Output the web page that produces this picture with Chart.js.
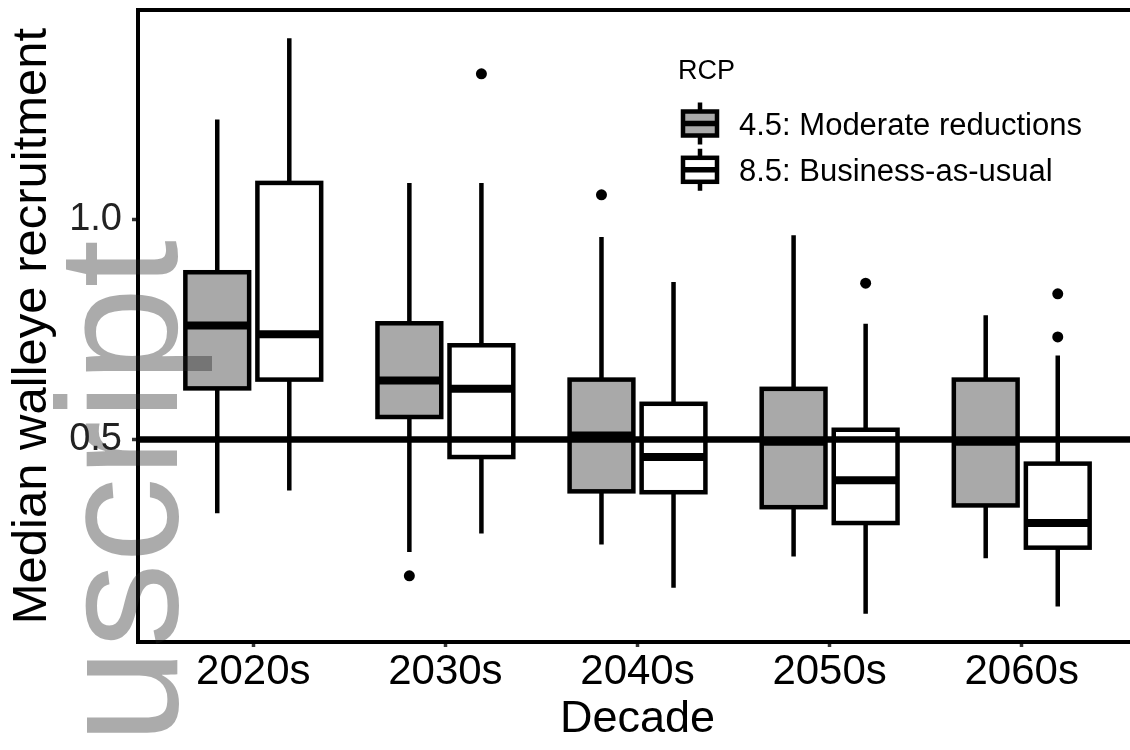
<!DOCTYPE html>
<html>
<head>
<meta charset="utf-8">
<script src="https://cdn.jsdelivr.net/npm/chart.js@4.4.1/dist/chart.umd.min.js"></script>
<style>
  html, body { margin: 0; padding: 0; background: #fff; overflow: hidden; }
  #wrap { width: 1130px; height: 750px; overflow: hidden; }
  #chart { display: block; }
</style>
</head>
<body>
<div id="wrap"><canvas id="chart" width="1140" height="750"></canvas></div>
<script>
// decades on the x axis
const decades = ['2020s', '2030s', '2040s', '2050s', '2060s'];
const legendTitle = 'RCP';
const seriesNames = ['4.5: Moderate reductions', '8.5: Business-as-usual'];

// RCP 4.5 box stats (whisker low, Q1, median, Q3, whisker high)
const rcp45Low  = [0.332, 0.244, 0.261, 0.234, 0.230];
const rcp45Q1   = [0.616, 0.551, 0.382, 0.346, 0.350];
const rcp45Med  = [0.759, 0.634, 0.509, 0.495, 0.495];
const rcp45Q3   = [0.880, 0.764, 0.636, 0.615, 0.636];
const rcp45High = [1.227, 1.083, 0.960, 0.964, 0.782];
const rcp45Outliers = [[], [0.190], [1.056], [], []];

// RCP 8.5 box stats
const rcp85Low  = [0.384, 0.286, 0.163, 0.104, 0.120];
const rcp85Q1   = [0.636, 0.460, 0.380, 0.310, 0.254];
const rcp85Med  = [0.739, 0.615, 0.460, 0.407, 0.310];
const rcp85Q3   = [1.083, 0.714, 0.581, 0.522, 0.445];
const rcp85High = [1.412, 1.083, 0.858, 0.763, 0.691];
const rcp85Outliers = [[], [1.331], [], [0.855], [0.831, 0.733]];

const yTicks = [0.5, 1.0];
const refLine = 0.5;

const FONT = '"Liberation Sans", Arial, sans-serif';
Chart.defaults.font.family = FONT;

// dodge offset / half box width in x-axis units
const DODGE = 0.1875;
const HALF = 0.166;
const X_MIN = 0.4;
const X_MAX = 5.6;

const groups = [
  { low: rcp45Low, q1: rcp45Q1, med: rcp45Med, q3: rcp45Q3, high: rcp45High, out: rcp45Outliers, fill: '#a9a9a9', shift: -DODGE },
  { low: rcp85Low, q1: rcp85Q1, med: rcp85Med, q3: rcp85Q3, high: rcp85High, out: rcp85Outliers, fill: '#ffffff', shift: DODGE }
];

function outlierPoints(g) {
  const pts = [];
  g.out.forEach((vals, i) => vals.forEach(v => pts.push({ x: i + 1 + g.shift, y: v })));
  return pts;
}

function noPad(s) {
  s.paddingTop = 0; s.paddingBottom = 0;
  s.paddingLeft = 0; s.paddingRight = 0;
}

const boxPlugin = {
  id: 'boxes',
  beforeDatasetsDraw(chart) {
    const { ctx, scales: { x, y } } = chart;
    ctx.save();
    ctx.strokeStyle = '#000';
    ctx.lineJoin = 'miter';
    ctx.lineCap = 'butt';
    groups.forEach(g => {
      for (let i = 0; i < decades.length; i++) {
        const pos = i + 1 + g.shift;
        const cx = x.getPixelForValue(pos);
        const l = x.getPixelForValue(pos - HALF);
        const r = x.getPixelForValue(pos + HALF);
        const yLow = y.getPixelForValue(g.low[i]);
        const yQ1 = y.getPixelForValue(g.q1[i]);
        const yMed = y.getPixelForValue(g.med[i]);
        const yQ3 = y.getPixelForValue(g.q3[i]);
        const yHigh = y.getPixelForValue(g.high[i]);
        // whiskers
        ctx.lineWidth = 4.5;
        ctx.beginPath();
        ctx.moveTo(cx, yLow); ctx.lineTo(cx, yQ1);
        ctx.moveTo(cx, yQ3); ctx.lineTo(cx, yHigh);
        ctx.stroke();
        // box
        ctx.fillStyle = g.fill;
        ctx.fillRect(l, yQ3, r - l, yQ1 - yQ3);
        ctx.strokeRect(l, yQ3, r - l, yQ1 - yQ3);
        // median
        ctx.lineWidth = 8;
        ctx.beginPath();
        ctx.moveTo(l, yMed); ctx.lineTo(r, yMed);
        ctx.stroke();
      }
    });
    ctx.restore();
  },
  afterDatasetsDraw(chart) {
    const { ctx, chartArea: a } = chart;
    ctx.save();
    // panel border (its right side sits past the visible 1130px)
    ctx.strokeStyle = '#000';
    ctx.lineWidth = 4;
    ctx.lineJoin = 'miter';
    ctx.strokeRect(a.left, a.top, a.right - a.left, a.bottom - a.top);

    // legend
    ctx.fillStyle = '#000';
    ctx.textAlign = 'left';
    ctx.textBaseline = 'alphabetic';
    ctx.font = '27px ' + FONT;
    ctx.fillText(legendTitle, 678, 79);
    ctx.font = '31px ' + FONT;
    groups.forEach((g, k) => {
      const cy = 123.5 + k * 46.3;
      const kx = 700;
      ctx.lineWidth = 4.5;
      ctx.beginPath();
      ctx.moveTo(kx, cy - 21); ctx.lineTo(kx, cy - 12);
      ctx.moveTo(kx, cy + 12); ctx.lineTo(kx, cy + 21);
      ctx.stroke();
      ctx.fillStyle = g.fill;
      ctx.fillRect(kx - 17, cy - 12, 34, 24);
      ctx.strokeRect(kx - 17, cy - 12, 34, 24);
      ctx.lineWidth = 5.5;
      ctx.beginPath();
      ctx.moveTo(kx - 17, cy); ctx.lineTo(kx + 17, cy);
      ctx.stroke();
      ctx.fillStyle = '#000';
      ctx.fillText(seriesNames[k], 739, cy + 11.5);
    });
    ctx.restore();
  },
  afterDraw(chart) {
    // faint "Manuscript" stamp over the left edge
    const { ctx } = chart;
    ctx.save();
    ctx.translate(177, 240);
    ctx.rotate(-Math.PI / 2);
    ctx.font = '171px ' + FONT;
    ctx.fillStyle = 'rgba(34,34,34,0.38)';
    ctx.textAlign = 'right';
    ctx.textBaseline = 'alphabetic';
    ctx.fillText('Manuscript', 0, 0);
    ctx.restore();
  }
};

const chart = new Chart(document.getElementById('chart'), {
  type: 'scatter',
  data: {
    datasets: [
      {
        label: seriesNames[0] + ' outliers',
        data: outlierPoints(groups[0]),
        pointRadius: 5.5,
        pointBackgroundColor: '#000',
        pointBorderWidth: 0,
        order: 2
      },
      {
        label: seriesNames[1] + ' outliers',
        data: outlierPoints(groups[1]),
        pointRadius: 5.5,
        pointBackgroundColor: '#000',
        pointBorderWidth: 0,
        order: 2
      },
      {
        type: 'line',
        label: 'reference',
        data: [{ x: X_MIN, y: refLine }, { x: X_MAX, y: refLine }],
        borderColor: '#000',
        borderWidth: 6.5,
        pointRadius: 0,
        order: 1
      }
    ]
  },
  options: {
    responsive: false,
    animation: false,
    layout: { autoPadding: false, padding: { top: 10, left: 0, right: 3, bottom: 0 } },
    plugins: {
      legend: { display: false },
      tooltip: { enabled: false }
    },
    scales: {
      x: {
        type: 'linear',
        min: X_MIN,
        max: X_MAX,
        afterBuildTicks: s => { s.ticks = decades.map((d, i) => ({ value: i + 1 })); },
        afterFit: s => { s.height = 108; noPad(s); },
        ticks: {
          callback: v => decades[Math.round(v) - 1],
          font: { size: 42 },
          color: '#000',
          padding: 0,
          maxRotation: 0,
          autoSkip: false
        },
        grid: { drawOnChartArea: false, tickLength: 5, tickWidth: 3.5, tickColor: '#333' },
        border: { display: false },
        title: { display: true, text: 'Decade', font: { size: 45 }, color: '#000', padding: { top: 0, bottom: 3 } }
      },
      y: {
        type: 'linear',
        min: 0.0396,
        max: 1.476,
        afterBuildTicks: s => { s.ticks = yTicks.map(v => ({ value: v })); },
        afterFit: s => { s.width = 138; noPad(s); },
        ticks: {
          callback: v => v.toFixed(1),
          font: { size: 38 },
          color: '#222',
          padding: 10
        },
        grid: { drawOnChartArea: false, tickLength: 6, tickWidth: 3.5, tickColor: '#333' },
        border: { display: false },
        title: { display: true, text: 'Median walleye recruitment', font: { size: 49 }, color: '#000', padding: { top: 3, bottom: 0 } }
      }
    }
  },
  plugins: [boxPlugin]
});
</script>
</body>
</html>
